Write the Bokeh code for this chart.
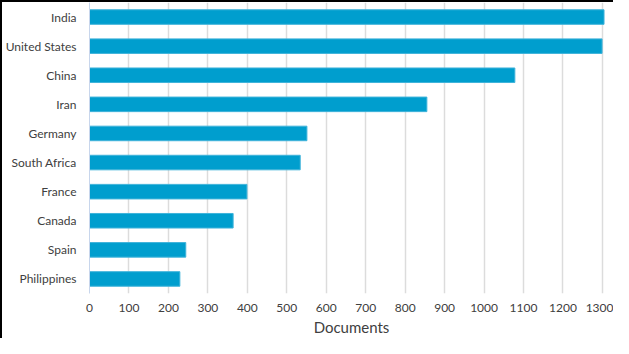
from bokeh.plotting import figure
from bokeh.models import FactorRange, Range1d, ColumnDataSource, FixedTicker
from bokeh.embed import file_html
from bokeh.resources import INLINE

countries = ["India", "United States", "China", "Iran", "Germany",
             "South Africa", "France", "Canada", "Spain", "Philippines"]
documents = [1304, 1299, 1078, 855, 551, 534, 399, 364, 244, 229]
x_ticks = [0, 100, 200, 300, 400, 500, 600, 700, 800, 900, 1000, 1100, 1200, 1300]
x_title = "Documents"

src = ColumnDataSource(dict(country=countries, docs=documents))

W, H = 613, 338
p = figure(
    width=W, height=H,
    y_range=FactorRange(*reversed(countries), range_padding=0),
    x_range=Range1d(0, 1328),
    output_backend="svg", toolbar_location=None,
    min_border_left=89, min_border_right=0, min_border_top=2, min_border_bottom=45,
    styles={"background-color": "white",
            "box-shadow": "inset 2px 2px 0 0 black"},
)
p.outline_line_color = None
p.background_fill_color = "white"
p.border_fill_alpha = 0

p.hbar(y="country", right="docs", left=0, height=0.5, source=src,
       fill_color="#009ECE", line_color="#3FB3DA", line_width=1)

font = "Lato"
p.ygrid.grid_line_color = None
p.xgrid.grid_line_color = "#DCDCDC"
p.xgrid.grid_line_width = 1.5
p.xaxis.ticker = FixedTicker(ticks=x_ticks)

p.xaxis.axis_line_color = None
p.xaxis.major_tick_line_color = None
p.xaxis.major_tick_out = 0
p.xaxis.minor_tick_line_color = None
p.xaxis.major_label_standoff = 10
p.xaxis.major_label_text_font = font
p.xaxis.major_label_text_font_size = "12px"
p.xaxis.major_label_text_color = "#404040"
p.xaxis.axis_label = x_title
p.xaxis.axis_label_text_font = font
p.xaxis.axis_label_text_font_size = "15px"
p.xaxis.axis_label_text_font_style = "normal"
p.xaxis.axis_label_text_color = "#404040"
p.xaxis.axis_label_standoff = 3

p.yaxis.axis_line_color = "#C8D6EC"
p.yaxis.axis_line_width = 1
p.yaxis.major_tick_line_color = None
p.yaxis.major_tick_out = 0
p.yaxis.minor_tick_line_color = None
p.yaxis.major_label_standoff = 13
p.yaxis.major_label_text_font = font
p.yaxis.major_label_text_font_size = "12px"
p.yaxis.major_label_text_color = "#404040"

open("out.html", "w").write(file_html(p, INLINE))
